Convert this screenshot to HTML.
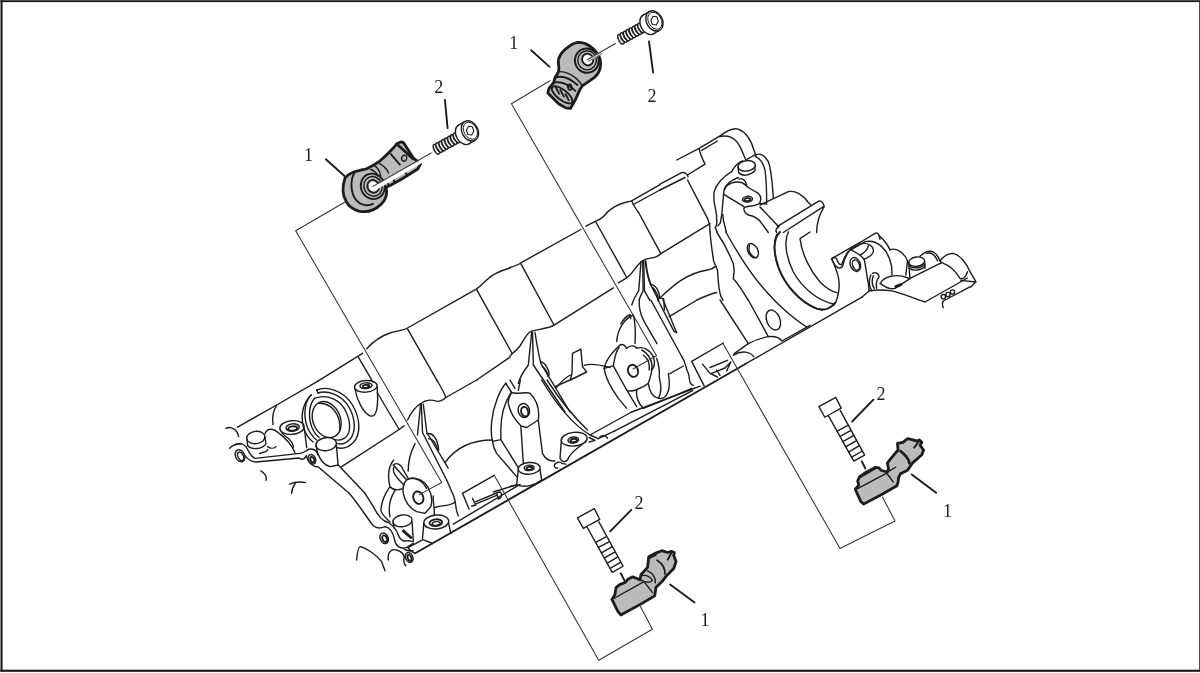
<!DOCTYPE html>
<html><head><meta charset="utf-8"><title>Knock sensor location</title><style>
html,body{margin:0;padding:0;background:#fff;overflow:hidden}
svg{display:block;filter:blur(0.3px)}
.l path,.l ellipse,.l circle,.l line,.l polyline,.l polygon,.l rect{fill:none;stroke:#1c1c1c;stroke-width:1.4;vector-effect:non-scaling-stroke;stroke-linecap:round;stroke-linejoin:round}
.l.ld path{stroke:#333;stroke-width:1.05}
.l .w{fill:#fff}
.l .g{fill:#bbb}
.l .k{stroke-width:2.8}
.l .m{stroke-width:1.9}
text{font-family:"Liberation Serif","DejaVu Serif",serif;font-size:18px;fill:#1c1c1c}
</style></head><body>
<svg width="1200" height="673" viewBox="0 0 1200 673">
<rect x="0" y="0" width="1200" height="673" fill="#fff"/>
<!-- 00_border.svg -->
<g fill="#151515">
<rect x="0.5" y="0.4" width="2.05" height="671.4"/>
<rect x="0.5" y="0.25" width="1199.5" height="1.85"/>
<rect x="0.5" y="669.7" width="1199.5" height="2.1"/>
<rect x="1199.25" y="0.4" width="0.75" height="671.4"/>
</g>
<!-- 10_A.svg -->
<g class="l" transform="translate(210,380) scale(0.166667)">
<path d="M165,283 L400,150 L650,5"/>
<path d="M95,290 C130,275 165,300 172,340"/>
<path d="M118,410 C140,385 160,380 185,385"/>
<ellipse cx="180" cy="455" rx="27" ry="38" transform="rotate(-25 180 455)"/>
<ellipse cx="184" cy="458" rx="16" ry="27" transform="rotate(-25 184 458)"/>
<path d="M150,390 C175,372 200,382 215,400 C235,430 245,462 270,470 L540,440 C565,437 572,428 582,422"/>
<path d="M208,450 C225,478 250,490 275,492 L535,468 C550,482 568,475 578,455"/>
<ellipse class="w" cx="275" cy="345" rx="55" ry="37" transform="rotate(-8 275 345)"/>
<path d="M221,352 L226,395 C250,422 312,415 336,385 L330,342"/>
<path d="M330,322 C345,285 378,288 415,320 C452,348 492,392 510,436"/>
<path d="M345,400 C360,412 382,412 396,400"/>
<path d="M298,442 C320,430 340,436 346,418"/>
<path d="M400,152 C375,190 372,230 378,268"/>
<path d="M420,288 C424,318 440,332 470,350 C490,368 498,385 502,402"/>
<path d="M566,290 L580,405"/>
<ellipse class="w" cx="492" cy="285" rx="73" ry="41" transform="rotate(-5 492 285)"/>
<ellipse cx="496" cy="285" rx="40" ry="22" transform="rotate(-5 496 285)"/>
<ellipse class="m" cx="496" cy="291" rx="27" ry="13" transform="rotate(-5 496 291)"/>
<path d="M640,60 C700,35 800,60 855,150 C905,235 905,330 860,375 C830,405 790,415 758,405"/>
<path d="M640,60 L648,78"/>
<path d="M608,88 C565,130 540,200 560,280 C570,320 590,350 618,372"/>
<path d="M608,88 L600,98"/>
<path d="M648,78 C700,60 790,85 835,165 C875,235 875,315 840,355 C815,380 785,388 762,380"/>
<path d="M600,98 C565,140 560,220 585,285 C600,320 620,345 640,360"/>
<path d="M628,110 C700,80 790,120 820,200 C850,270 840,330 805,350 C785,362 765,362 750,358"/>
<path d="M628,110 C590,150 590,230 612,285 C625,315 640,335 655,345"/>
<ellipse cx="700" cy="238" rx="82" ry="112" transform="rotate(-22 700 238)"/>
<path d="M650,140 C720,135 790,200 778,305"/>
<ellipse class="w" cx="697" cy="385" rx="62" ry="39" transform="rotate(-8 697 385)"/>
<path d="M636,395 L648,450"/>
<path d="M758,388 L768,505"/>
<path d="M582,422 C600,408 632,412 646,440 C665,480 682,512 722,520 L770,510"/>
<ellipse cx="612" cy="476" rx="21" ry="30" transform="rotate(-25 612 476)"/>
<ellipse class="m" cx="614" cy="478" rx="11" ry="18" transform="rotate(-25 614 478)"/>
<path d="M578,455 C590,500 620,520 650,522 L835,680"/>
<path d="M770,510 L930,680"/>
<path d="M868,45 C880,120 920,200 962,216 C1000,226 1012,160 1003,45"/>
<ellipse class="w" cx="935" cy="38" rx="68" ry="35" transform="rotate(-5 935 38)"/>
<ellipse cx="936" cy="34" rx="36" ry="17" transform="rotate(-5 936 34)"/>
<ellipse class="m" cx="936" cy="38" rx="20" ry="9" transform="rotate(-5 936 38)"/>
<path d="M1003,75 L1135,297 L1165,275"/>
<path d="M790,520 L1135,297"/>
<path d="M305,545 C330,560 342,580 336,602"/>
<path d="M478,625 C510,610 540,610 572,615"/>
<path d="M512,620 C497,640 490,660 490,680"/>
</g>
<!-- 11_B.svg -->
<g class="l" transform="translate(410,380) scale(0.166667)">
<path d="M160,0 C185,40 205,75 215,105 L400,0"/>
<path d="M-15,240 C15,180 40,155 64,142 C100,112 135,120 165,128 C190,128 205,115 215,105"/>
<path d="M64,142 L45,330"/>
<path d="M68,146 L75,315 L220,600"/>
<path d="M80,146 L101,315 L229,529"/>
<path d="M101,322 C135,315 165,345 172,420"/>
<path d="M112,352 C135,352 157,380 168,424"/>
<path d="M30,382 C0,440 -11,495 -11,547"/>
<path d="M210,495 C270,412 360,360 495,360"/>
<path d="M575,20 C540,60 500,150 490,250 C485,300 488,340 495,368 C498,400 505,415 520,440 L640,580"/>
<path d="M605,78 C572,130 545,200 545,300 L545,358 L495,368"/>
<path d="M545,358 L655,535"/>
<path d="M575,20 L610,75 C640,88 700,68 720,80 C760,120 778,180 770,240 L700,285 L665,275 C630,240 600,190 590,140 C588,115 598,95 610,75"/>
<ellipse cx="683" cy="183" rx="34" ry="42" transform="rotate(-15 683 183)"/>
<ellipse class="m" cx="688" cy="190" rx="21" ry="29" transform="rotate(-15 688 190)"/>
<path d="M665,275 L680,500"/>
<path d="M770,240 C780,330 790,400 795,440 C810,470 830,490 870,485"/>
<path d="M600,0 L630,50"/>
<path d="M662,0 L650,62"/>
<path d="M790,0 C850,100 950,250 1080,330 L1130,352"/>
<path d="M822,0 C880,90 960,200 1065,300"/>
<path d="M870,40 L960,0"/>
<path d="M1080,330 L1330,192"/>
<path d="M1130,352 L1229,305"/>
<path d="M908,365 L900,470 C910,492 930,496 945,480 C960,430 1020,400 1060,365"/>
<ellipse class="w" cx="985" cy="355" rx="78" ry="41" transform="rotate(-6 985 355)"/>
<ellipse cx="980" cy="360" rx="32" ry="18" transform="rotate(-6 980 360)"/>
<ellipse class="m" cx="982" cy="363" rx="20" ry="10" transform="rotate(-6 982 363)"/>
<path d="M650,535 L640,628"/>
<path d="M780,535 L790,600"/>
<ellipse class="w" cx="715" cy="530" rx="66" ry="35" transform="rotate(-5 715 530)"/>
<ellipse cx="715" cy="527" rx="30" ry="16" transform="rotate(-5 715 527)"/>
<ellipse class="m" cx="716" cy="530" rx="18" ry="9" transform="rotate(-5 716 530)"/>
<path d="M870,505 C880,490 900,490 912,500 L935,505"/>
<path d="M868,505 C862,520 870,530 885,528"/>
<path d="M500,672 L640,628 C690,650 750,630 790,600"/>
<path d="M600,640 C620,630 630,640 640,628"/>
<path d="M1075,345 L1110,362 L1075,372"/>
<path d="M1140,340 C1160,330 1180,335 1185,350"/>
<path d="M0,590 C40,585 80,610 100,650"/>
</g>
<!-- 12_C.svg -->
<g class="l" transform="translate(610,300) scale(0.166667)">
<ellipse class="m" cx="138" cy="425" rx="30" ry="37" transform="rotate(-20 138 425)"/>
<path d="M40,250 C45,170 90,110 140,90 C150,130 156,170 150,262"/>
<path d="M-35,410 C-30,380 0,330 40,290 L60,270 C80,260 90,275 100,290 C120,270 150,270 160,290 C200,275 240,300 260,340"/>
<path d="M-35,410 L20,395 C30,330 40,300 55,285"/>
<path d="M20,395 L100,540 C120,555 150,545 200,520 L230,500 C240,470 250,440 250,420 C270,400 270,370 260,340"/>
<path d="M-35,410 C-30,450 0,520 50,590 L100,650"/>
<path d="M100,540 L160,640"/>
<path d="M160,540 C155,580 170,620 200,650"/>
<path d="M190,300 C230,320 260,370 250,420"/>
<path d="M200,330 C230,350 240,390 235,420"/>
<path d="M230,500 C235,540 250,580 290,590 C310,560 305,500 295,460 C300,420 290,380 280,350"/>
<path d="M295,590 C340,600 360,540 355,480 L350,440"/>
<path d="M200,650 C300,610 400,570 490,530"/>
<path d="M245,0 L432,342"/>
<path d="M288,0 L385,190 L400,196 L332,32 L318,0"/>
<path d="M176,0 C170,50 185,90 205,130 L282,262"/>
<path d="M355,100 L522,0"/>
<path d="M432,342 C456,372 450,402 470,440 C482,480 470,500 500,512"/>
<path d="M360,442 L440,396"/>
<path d="M130,672 L480,540 L540,517"/>
<path d="M29,785 L495,544"/>
<path d="M565,515 L490,368 L680,258"/>
<path d="M555,385 L600,440 L645,462"/>
<path d="M600,405 L705,362"/>
<path d="M610,440 L690,408 L725,372 L700,425"/>
<path d="M640,420 L660,452"/>
<path d="M660,0 L830,262"/>
<path d="M830,0 L950,220 C1000,214 1020,230 1032,246 L1200,152"/>
<ellipse cx="980" cy="120" rx="40" ry="62" transform="rotate(-22 980 120)"/>
<path d="M745,322 L830,262 C870,240 920,226 950,220"/>
<path d="M740,332 C790,300 840,310 862,340"/>
</g>
<!-- 13_D.svg -->
<g class="l" transform="translate(340,460) scale(0.166667)">
<path d="M150,200 C175,240 190,262 200,280 C230,340 260,370 290,375 C320,395 340,420 350,450 C360,478 380,492 410,484 L440,490"/>
<path d="M55,200 C100,250 150,330 200,395 C220,412 250,408 270,400"/>
<ellipse cx="265" cy="470" rx="24" ry="33" transform="rotate(-25 265 470)"/>
<ellipse class="m" cx="268" cy="472" rx="13" ry="21" transform="rotate(-25 268 472)"/>
<path d="M270,400 C300,405 320,440 328,480 C336,520 365,535 400,524 L440,500"/>
<path d="M290,600 C283,560 305,530 340,540 C365,548 380,560 385,580"/>
<ellipse cx="415" cy="585" rx="22" ry="31" transform="rotate(-25 415 585)"/>
<ellipse class="m" cx="417" cy="587" rx="11" ry="19" transform="rotate(-25 417 587)"/>
<path d="M385,535 C400,545 420,548 440,545"/>
<ellipse class="w" cx="375" cy="365" rx="58" ry="35" transform="rotate(-8 375 365)"/>
<path d="M318,372 L326,410"/>
<path d="M432,368 L440,482"/>
<path class="k" d="M380,425 L425,465"/>
<path d="M503,380 L495,470"/>
<path d="M652,380 L665,440"/>
<ellipse class="w" cx="578" cy="372" rx="75" ry="42" transform="rotate(-5 578 372)"/>
<ellipse class="m" cx="575" cy="376" rx="38" ry="20" transform="rotate(-5 575 376)"/>
<ellipse cx="577" cy="381" rx="24" ry="11" transform="rotate(-5 577 381)"/>
<path d="M408,526 L498,478 L555,501"/>
<path d="M408,526 C420,545 435,555 451,560"/>
<path d="M680,385 L1080,146"/>
<path d="M320,30 L400,120 C430,100 480,110 510,140 C540,170 560,230 545,280 L510,320 L460,310 C420,290 390,250 380,200 C375,170 380,140 400,120"/>
<path d="M320,30 C340,10 370,30 380,60 L410,112"/>
<path d="M322,45 C312,75 340,110 385,150"/>
<ellipse class="m" cx="470" cy="226" rx="30" ry="38" transform="rotate(-20 470 226)"/>
<path d="M322,0 C290,40 285,100 300,160 C270,200 250,250 245,300 C250,330 280,350 300,372"/>
<path d="M300,160 C320,182 350,182 376,172"/>
<path d="M330,182 C300,230 290,290 300,340"/>
<path d="M640,120 L682,216 C700,260 690,300 710,335"/>
<path d="M560,215 C555,250 570,290 565,330"/>
<path d="M570,285 C600,270 650,282 692,252"/>
<path d="M735,200 L925,92"/>
<path d="M735,200 L775,295"/>
<path d="M795,230 L815,270 L790,276"/>
<path d="M815,250 L955,192 C975,192 975,225 950,235 L942,205"/>
<path d="M820,262 L940,212"/>
<path d="M100,600 C104,550 110,520 122,520 C160,530 220,570 250,610 L270,665"/>
<path d="M385,580 C380,610 385,625 395,635"/>
</g>
<!-- 14_E.svg -->
<g class="l" transform="translate(310,268) scale(0.166667)">
<path d="M50,677 L315,512"/>
<path d="M290,535 L378,685"/>
<path d="M340,485 C380,440 420,410 480,390 C530,375 560,375 585,360 L1000,125 C1040,100 1060,60 1110,35 C1150,15 1180,5 1200,0"/>
<path d="M585,365 L765,680"/>
<path d="M1000,130 L1213,513"/>
<path d="M1000,672 L1200,535"/>
</g>
<!-- 15_F.svg -->
<g class="l" transform="translate(510,212) scale(0.166667)">
<path d="M0,333 C40,322 58,312 70,302 L425,105"/>
<path d="M455,85 L515,55 C545,45 570,20 585,0"/>
<path d="M65,310 L262,675"/>
<path d="M515,60 L700,392"/>
<path d="M770,0 L905,250"/>
<path d="M262,680 L620,455"/>
<path d="M650,425 L700,395 C740,370 760,310 800,290 C830,270 870,285 905,250 L1200,70"/>
<path d="M665,672 C680,640 700,625 720,615 L725,640"/>
</g>
<!-- 15b_R2.svg -->
<g class="l" transform="translate(620,255) scale(0.124844)">
<path d="M168,55 L150,285 C125,325 105,365 95,400"/>
<path d="M182,45 L185,290 C165,325 155,345 155,362"/>
<path d="M190,45 L196,288 L240,365"/>
<path class="m" d="M205,50 C212,120 225,185 245,235"/>
<path d="M245,235 L310,365"/>
<path d="M245,235 C290,240 315,290 318,345"/>
<path d="M265,262 C290,290 300,320 308,348"/>
<path d="M300,350 L308,365"/>
<path d="M318,345 L350,350 L356,440"/>
<path d="M318,345 C420,250 520,150 700,120 C730,115 745,108 750,100"/>
<path d="M617,360 C680,330 730,310 775,300"/>
</g>
<!-- 16_G.svg -->
<g class="l" transform="translate(510,300) scale(0.166667)">
<path d="M0,336 L10,325 C35,305 50,290 62,273 C80,245 90,225 102,209 C112,195 122,188 134,185 C155,183 170,178 190,173 C215,168 240,165 262,152"/>
<path d="M130,195 L110,390 C80,430 60,460 50,500"/>
<path d="M135,195 L140,390 L330,672"/>
<path d="M150,195 C160,260 170,320 185,380 L360,672"/>
<path d="M185,370 C215,380 235,420 235,450"/>
<path d="M195,400 C215,415 225,440 228,460"/>
<path d="M375,320 L425,295 L435,400 L460,432 L362,480 L372,440 Z"/>
<path d="M275,530 C305,490 335,465 362,450"/>
<path d="M445,392 C500,375 560,395 600,405"/>
</g>
<!-- 17_H.svg -->
<g class="l" transform="translate(660,120) scale(0.166667)">
<path d="M100,240 L235,170 L360,95 C400,65 440,45 470,55 C520,75 550,130 565,185 L575,210"/>
<path d="M358,100 C400,88 450,100 480,160 C500,200 505,222 515,240 L572,208"/>
<path d="M250,182 L345,126"/>
<path d="M235,172 C240,200 255,235 270,265 L165,330"/>
<path d="M0,385 L130,316 C150,312 165,325 168,340"/>
<path d="M0,420 L150,345"/>
<path d="M165,360 L285,590 L298,630 L300,672"/>
<path d="M575,210 C600,195 630,215 650,250 C670,300 675,400 680,470"/>
<path d="M572,218 C600,230 620,260 630,300 C640,370 640,440 640,500"/>
<path d="M600,500 L640,505"/>
<path d="M468,280 L472,315 C490,340 540,335 570,305 L570,272"/>
<ellipse class="w" cx="520" cy="275" rx="52" ry="31" transform="rotate(-8 520 275)"/>
<path d="M495,245 C460,260 440,290 430,310 C380,340 340,380 325,430 C315,500 340,540 340,580 C336,600 350,625 331,646 L343,672"/>
<path d="M470,345 C430,360 395,380 385,420 C378,460 376,520 370,570 L362,617 L348,634"/>
<path d="M385,420 C400,380 450,365 490,375 C510,385 520,395 530,405 L590,440 C610,460 610,490 590,505 C560,520 520,515 505,525 C500,540 510,560 530,570 C560,575 590,590 610,620 L650,675"/>
<path d="M380,445 L502,518"/>
<path d="M377,566 L380,600 L398,672"/>
<path d="M475,355 C490,345 515,360 520,390"/>
<ellipse cx="525" cy="475" rx="30" ry="17" transform="rotate(-5 525 475)"/>
<ellipse class="m" cx="525" cy="478" rx="19" ry="9" transform="rotate(-5 525 478)"/>
<path d="M600,510 L770,430 C810,420 860,450 890,495 L905,510"/>
<path d="M600,522 L712,640"/>
<path d="M705,638 L955,485 C970,485 980,500 985,517 L740,675"/>
<path d="M985,520 C960,560 940,600 940,675"/>
<path d="M712,640 C698,650 690,665 700,675"/>
</g>
<!-- 18_I.svg -->
<g class="l" transform="translate(660,232) scale(0.166667)">
<path d="M300,0 C305,60 315,130 322,175 L335,205 L320,215"/>
<path d="M335,205 L345,230 C350,290 350,340 365,385 L378,410"/>
<path d="M340,0 C380,60 420,140 440,190 L445,230 L440,280 C470,310 500,360 530,410"/>
<path d="M395,0 C450,100 540,250 640,360 C700,430 800,520 880,570"/>
<ellipse cx="557" cy="112" rx="29" ry="46" transform="rotate(-28 557 112)"/>
<path d="M538,80 C525,110 545,150 580,155"/>
<path class="m" d="M720,0 C680,40 680,120 710,210 C750,320 840,420 940,460 C990,475 1030,455 1050,425"/>
<path d="M700,15 C672,80 690,180 730,260 C790,370 880,450 975,468"/>
<path d="M770,0 C740,60 760,160 800,240 C850,330 940,410 1040,432"/>
<path d="M900,0 L840,40 C850,130 900,230 960,300 C1000,340 1040,360 1065,365"/>
<path d="M1030,160 C1060,230 1095,300 1062,400 C1058,420 1052,430 1042,440"/>
<path d="M1030,160 L1200,62"/>
<path d="M1030,160 C1040,150 1052,150 1060,162 C1070,190 1080,200 1090,195 C1100,170 1110,140 1130,116"/>
<ellipse cx="1172" cy="195" rx="30" ry="43" transform="rotate(-22 1172 195)"/>
<ellipse cx="1176" cy="198" rx="20" ry="32" transform="rotate(-22 1176 198)"/>
</g>
<!-- 19_J.svg -->
<g class="l" transform="translate(810,200) scale(0.166667)">
<path d="M300,255 L390,200 C400,195 410,200 415,215 L420,235"/>
<path d="M245,300 L330,250 C400,235 470,290 490,400 L492,448"/>
<path d="M415,215 C440,235 465,265 480,300"/>
<path d="M240,295 L300,265 C340,250 385,275 380,310 C375,335 350,345 325,355 L300,330 Z"/>
<path d="M300,330 C320,320 345,300 350,275"/>
<path d="M325,355 C335,400 340,450 350,500 L355,545"/>
<path d="M130,352 C150,400 170,420 195,400 C200,370 215,330 240,300"/>
<path d="M478,298 C520,285 565,315 585,365 L575,450"/>
<ellipse class="w" cx="640" cy="370" rx="48" ry="28" transform="rotate(-8 640 370)"/>
<path d="M592,375 L600,470"/>
<path d="M688,368 L690,410"/>
<path d="M595,395 C620,415 670,410 690,385"/>
<path d="M597,410 C620,428 670,422 690,398"/>
<path d="M660,338 C690,310 720,300 745,315 C765,330 775,350 780,365"/>
<path d="M700,320 C730,310 750,330 765,365"/>
<path d="M780,365 C800,340 830,320 860,320 C900,330 940,380 960,430 L995,490 L965,522"/>
<path d="M790,376 C830,390 870,420 900,470 C920,480 935,460 945,430"/>
<path d="M600,470 L790,376 L780,365"/>
<path d="M425,497 C440,460 520,440 580,465 L600,472"/>
<path d="M420,500 C450,522 480,540 510,530 L600,472"/>
<path class="k" d="M515,520 L545,508"/>
<path d="M355,545 C400,538 450,540 490,545 C560,560 620,590 690,612 L945,468"/>
<path d="M905,482 L995,492"/>
<circle cx="800" cy="580" r="13"/>
<circle cx="828" cy="567" r="13"/>
<circle cx="855" cy="552" r="13"/>
<path d="M962,520 L800,606 C790,620 795,635 800,646"/>
<path d="M314,581 L355,546"/>
<path d="M375,440 C395,430 410,440 415,460 C400,480 395,510 400,530"/>
<path d="M365,450 C350,480 355,520 370,545"/>
<path d="M380,455 C370,480 372,510 385,530"/>
</g>
<!-- 20_K.svg -->
<g class="l" transform="translate(560,130) scale(0.166667)">
<path d="M285,492 C310,470 350,445 390,435 L430,425 L600,328"/>
<path d="M440,447 L600,360"/>
<path d="M430,425 L440,447 L470,495"/>
</g>
<!-- 30_BL.svg -->
<g class="l" transform="translate(600,540) scale(0.118906)">
<path class="g k" d="M100,500 L125,460 L135,400 L165,375 L215,355 L235,330 L275,310 L300,320 L335,335 L345,290 L400,230 L410,140 L470,110 L520,90 L570,105 L600,95 L625,105 L620,130 L640,180 L620,240 L560,300 L530,340 L470,400 L465,440 L460,470 L350,535 L175,630 L150,600 Z"/>
<path d="M120,490 L370,350 L440,440"/>
<path d="M370,350 L345,335"/>
<path class="m" d="M480,170 C530,200 552,250 545,285"/>
<path d="M400,260 C450,280 470,330 465,360"/>
<path d="M350,300 C390,290 430,310 440,340 C430,355 400,360 380,350"/>
<path class="m" d="M570,165 L600,110"/>
<path class="m" d="M420,150 L470,125"/>
<path class="m" d="M590,375 L795,525"/>
<path class="m" d="M175,280 L205,340"/>
</g>
<!-- 31_BR.svg -->
<g class="l" transform="translate(841,431) scale(0.118906)">
<path class="g k" d="M120,490 L150,455 L140,420 L155,385 L205,350 L290,305 L320,310 L335,330 L390,345 L400,320 L390,270 L420,230 L480,160 L475,105 L520,95 L560,65 L590,70 L640,85 L660,75 L680,95 L665,120 L695,160 L680,200 L600,270 L560,330 L500,360 L485,390 L480,430 L470,460 L350,530 L190,615 L165,590 Z"/>
<path d="M140,485 L385,355 L440,430"/>
<path d="M400,340 L460,305"/>
<path class="k" d="M500,170 C540,200 570,240 575,270"/>
<path class="m" d="M615,140 L650,95"/>
<path class="k" d="M160,385 L290,310"/>
<path class="m" d="M595,365 L800,520"/>
<path class="m" d="M175,255 L205,315"/>
</g>
<!-- 32_TL.svg -->
<g class="l" transform="translate(335,135) scale(0.118906)">
<path class="g k" d="M85,360 C110,330 150,310 200,300 C240,290 260,290 275,280 L330,250 C380,225 410,190 430,170 L490,110 L520,75 C540,55 565,55 578,68 L660,195 L720,242 L696,286 L565,368 L475,418 L430,440 C442,490 430,540 390,580 C340,630 270,655 200,640 C150,625 110,590 95,560 C70,520 55,450 85,360 Z"/>
<path class="m" d="M165,315 C125,380 130,490 180,550 C220,595 280,600 320,580"/>
<ellipse class="m" cx="318" cy="432" rx="100" ry="108" transform="rotate(-25 318 432)"/>
<ellipse cx="320" cy="432" rx="76" ry="84" transform="rotate(-25 320 432)"/>
<ellipse class="m w" cx="322" cy="432" rx="48" ry="54" transform="rotate(-25 322 432)"/>
<path d="M330,255 C360,275 380,310 385,345"/>
<path d="M375,240 C410,260 440,290 450,320"/>
<path d="M300,290 C330,300 350,320 360,345"/>
<path class="m" d="M470,160 L545,250"/>
<path class="k" d="M520,75 L655,200"/>
<ellipse cx="582" cy="195" rx="21" ry="25" transform="rotate(20 582 195)"/>
<path class="m" d="M445,405 L450,428"/>
<path class="m" d="M495,378 L498,400"/>
<path class="m" d="M595,318 L605,338"/>
<path d="M322,436 L715,212 L728,238 L345,462 Z" style="fill:#fff;stroke:none"/>
<path d="M318,432 L808,152" style="stroke:#3a3a3a;stroke-width:1.1"/>
<path class="m" d="M-77,204 L80,345"/>
</g>
<!-- 33_TC.svg -->
<g class="l" transform="translate(530,30) scale(0.118906)">
<path class="g k" d="M400,105 C470,100 540,150 580,220 C610,290 590,360 540,400 L440,470 L420,500 L380,590 L340,660 L300,655 L240,620 L150,530 L160,490 L200,440 L210,400 C240,360 250,340 240,290 C225,220 280,170 340,130 C360,115 380,108 400,105 Z"/>
<ellipse class="m" cx="478" cy="258" rx="100" ry="102" transform="rotate(-25 478 258)"/>
<ellipse cx="480" cy="255" rx="78" ry="80"/>
<ellipse class="m w" cx="485" cy="248" rx="46" ry="50" transform="rotate(-25 485 248)"/>
<path d="M484,244 L712,112 L720,128 L495,262 Z" style="fill:#fff;stroke:none"/>
<path d="M482,250 L718,114" style="stroke:#3a3a3a;stroke-width:1.1"/>
<path d="M495,262 L600,200" style="stroke:#888"/>
<path class="m" d="M215,400 C270,380 340,410 400,462"/>
<path class="m" d="M200,442 C260,430 330,462 382,512"/>
<path d="M250,350 C320,350 400,400 440,470"/>
<ellipse class="m" cx="270" cy="545" rx="105" ry="42" transform="rotate(38 270 545)"/>
<path class="m" d="M215,480 L245,535"/>
<path class="m" d="M255,505 L285,560"/>
<path class="m" d="M300,540 L325,590"/>
<rect class="m" x="320" y="458" width="30" height="45" rx="12" transform="rotate(-15 335 480)"/>
<path class="m" d="M10,170 L165,310"/>
</g>
<!-- 34_tbolts.svg -->
<defs><g id="tbolt" class="l">
<ellipse class="w" cx="172.0" cy="517.0" rx="24" ry="56" transform="rotate(-29 172.0 517.0)"/>
<ellipse class="w" cx="202.4" cy="500.1" rx="24" ry="56" transform="rotate(-29 202.4 500.1)"/>
<path d="M167.4,455.5 A24,56 -29 0 0 221.7,553.5" style="stroke-width:.8"/>
<ellipse class="w" cx="232.9" cy="483.3" rx="24" ry="56" transform="rotate(-29 232.9 483.3)"/>
<path d="M197.8,438.7 A24,56 -29 0 0 252.1,536.7" style="stroke-width:.8"/>
<ellipse class="w" cx="263.3" cy="466.4" rx="24" ry="56" transform="rotate(-29 263.3 466.4)"/>
<path d="M228.3,421.8 A24,56 -29 0 0 282.6,519.8" style="stroke-width:.8"/>
<ellipse class="w" cx="293.7" cy="449.6" rx="24" ry="56" transform="rotate(-29 293.7 449.6)"/>
<path d="M258.7,404.9 A24,56 -29 0 0 313.0,502.9" style="stroke-width:.8"/>
<ellipse class="w" cx="324.1" cy="432.7" rx="24" ry="56" transform="rotate(-29 324.1 432.7)"/>
<path d="M289.1,388.1 A24,56 -29 0 0 343.4,486.1" style="stroke-width:.8"/>
<ellipse class="w" cx="354.6" cy="415.9" rx="24" ry="56" transform="rotate(-29 354.6 415.9)"/>
<path d="M319.5,371.2 A24,56 -29 0 0 373.9,469.2" style="stroke-width:.8"/>
<ellipse class="w" cx="385.0" cy="399.0" rx="24" ry="56" transform="rotate(-29 385.0 399.0)"/>
<path d="M350.0,354.4 A24,56 -29 0 0 404.3,452.4" style="stroke-width:.8"/>
<ellipse class="w" cx="460" cy="363" rx="80" ry="112" transform="rotate(-29 460 363)"/>
<path d="M405.7,265.0 L470.7,227.0 L579.3,423.0 L514.3,461.0 Z" style="fill:#fff;stroke:none"/>
<path d="M405.7,265.0 L470.7,227.0 M514.3,461.0 L579.3,423.0"/>
<ellipse class="w" cx="525" cy="325" rx="84" ry="112" transform="rotate(-29 525 325)"/>
<ellipse cx="530" cy="323" rx="68" ry="95" transform="rotate(-29 530 323)" style="stroke-width:1"/>
<path d="M566.4,326.4 L543.7,367.3 L504.3,363.0 L487.6,317.6 L510.3,276.7 L549.7,281.0 Z" style="stroke-width:1.1"/>
</g></defs>
<g class="l" transform="translate(420,100) scale(0.095125)"><use href="#tbolt"/>
<path class="m" d="M262,0 L290,295"/>
</g>
<g class="l" transform="translate(604.5,-10) scale(0.095125)"><use href="#tbolt"/></g>
<g class="l"><path class="m" d="M649,41.4 L653.1,72.5"/></g>
<!-- 35_bbolts.svg -->
<defs><g id="bbolt" class="l">
<path class="w" d="M88,162 L208,97 L246,172 L130,237 Z"/>
<path class="w" d="M155,225 L335,548 L412,505 L240,190"/>
<path d="M218,335 L290,297 M238,372 L312,332 M258,410 L332,368 M280,445 L352,405 M300,483 L372,440 M320,520 L393,478"/>
</g></defs>
<g class="l" transform="translate(565,495) scale(0.141093)"><use href="#bbolt"/><path class="m" d="M470,105 L320,258"/></g>
<g class="l" transform="translate(806.5,383.8) scale(0.141093)"><use href="#bbolt"/></g>
<g class="l"><path class="m" d="M873.4,399.7 L852.2,421.5"/></g>
<!-- 40_edge.svg -->
<g class="l">
<path class="m" d="M415.2,553.3 L745,364.2"/>
<path d="M745,364.2 L862.4,296.9"/>
</g>
<!-- 50_leaders.svg -->
<g class="l ld">
<path d="M344.6,202.3 L295.7,230.8 L441.7,482.5 L419.2,494.6"/>
<path d="M550,80.8 L511.4,103.75 L656.5,355.8 L633,369"/>
<path d="M494.2,475.3 L598.7,660.2 L652.4,629.2 L640.3,606.3"/>
<path d="M723,343.5 L840,548.5 L895,521 L882.5,497"/>
</g>
<!-- 60_labels.svg -->
<g text-anchor="middle">
<text x="308.5" y="160.9">1</text>
<text x="438.7" y="93">2</text>
<text x="513.8" y="49">1</text>
<text x="651.9" y="102.1">2</text>
<text x="639" y="509">2</text>
<text x="705" y="625.8">1</text>
<text x="881" y="399.6">2</text>
<text x="947.6" y="516.7">1</text>
</g>
</svg>
</body></html>
